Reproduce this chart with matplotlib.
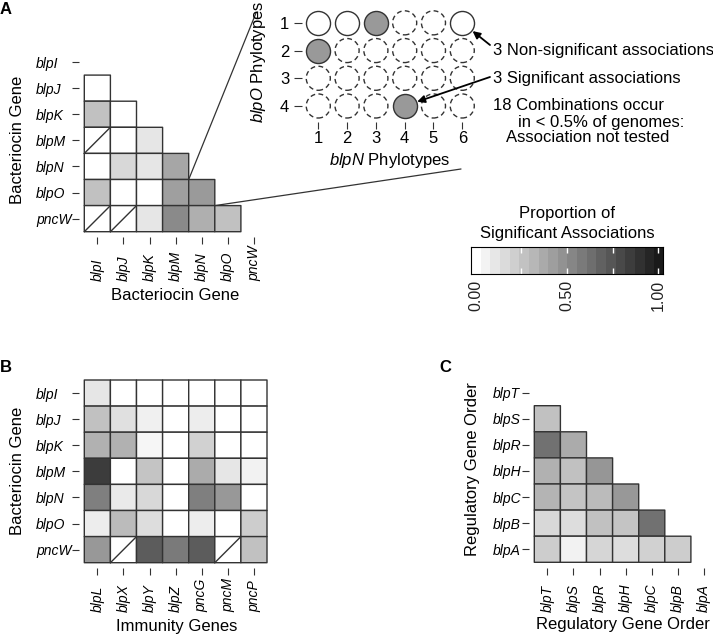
import numpy as np
import matplotlib
matplotlib.use('Agg')
import matplotlib.pyplot as plt
from matplotlib.colors import LinearSegmentedColormap
from matplotlib.patches import ConnectionPatch

plt.rcParams['font.family'] = ['Liberation Sans', 'DejaVu Sans']
plt.rcParams['mathtext.fontset'] = 'custom'
plt.rcParams['mathtext.it'] = 'Liberation Sans:italic'
plt.rcParams['mathtext.rm'] = 'Liberation Sans'
plt.rcParams['mathtext.default'] = 'regular'

nan = np.nan

# ---------------- data ----------------
# Panel A: bacteriocin x bacteriocin (lower triangle; nan = association not tested)
bacteriocin_genes = ["blpI", "blpJ", "blpK", "blpM", "blpN", "blpO", "pncW"]
bact_pair_props = [
    [],
    [0.00],
    [0.27, 0.00],
    [nan, 0.00, 0.11],
    [0.00, 0.17, 0.11, 0.39],
    [0.27, 0.00, 0.00, 0.42, 0.44],
    [nan, nan, 0.11, 0.51, 0.35, 0.27],
]

# Panel B: bacteriocin x immunity genes
immunity_genes = ["blpL", "blpX", "blpY", "blpZ", "pncG", "pncM", "pncP"]
bact_immunity_props = [
    [0.11, 0.00, 0.00, 0.00, 0.00, 0.00, 0.00],
    [0.27, 0.14, 0.07, 0.00, 0.08, 0.00, 0.00],
    [0.34, 0.34, 0.04, 0.00, 0.20, 0.00, 0.00],
    [0.85, 0.00, 0.26, 0.00, 0.37, 0.11, 0.06],
    [0.56, 0.09, 0.17, 0.00, 0.56, 0.45, 0.00],
    [0.08, 0.30, 0.15, 0.00, 0.08, 0.00, 0.22],
    [0.45, nan, 0.71, 0.58, 0.71, nan, 0.27],
]

# Panel C: regulatory gene order (lower triangle)
regulatory_genes = ["blpT", "blpS", "blpR", "blpH", "blpC", "blpB", "blpA"]
regulatory_pair_props = [
    [],
    [0.27],
    [0.62, 0.37],
    [0.34, 0.27, 0.46],
    [0.33, 0.26, 0.30, 0.45],
    [0.17, 0.15, 0.27, 0.26, 0.62],
    [0.22, 0.06, 0.18, 0.15, 0.20, 0.22],
]

# Inset: blpN x blpO phylotype associations
blpN_phylotypes = [1, 2, 3, 4, 5, 6]
blpO_phylotypes = [1, 2, 3, 4]
# 'S' significant, 'N' non-significant, 'R' rare (<0.5% of genomes, not tested)
phylotype_status = [
    ['N', 'N', 'S', 'R', 'R', 'N'],
    ['S', 'R', 'R', 'R', 'R', 'R'],
    ['R', 'R', 'R', 'R', 'R', 'R'],
    ['R', 'R', 'R', 'S', 'R', 'R'],
]

colorbar_ticks = [0.0, 0.5, 1.0]
colorbar_ticklabels = ["0.00", "0.50", "1.00"]
colorbar_minor = [0.25, 0.5, 0.75, 1.0]

# ---------------- helpers ----------------
W, H = 713, 637
fig = plt.figure(figsize=(W / 100, H / 100), dpi=100)


def add_ax(left, top, w, h):
    return fig.add_axes([left / W, 1 - (top + h) / H, w / W, h / H])


def ftext(x, y, s, **kw):
    kw.setdefault('ha', 'center')
    kw.setdefault('va', 'center')
    return fig.text(x / W, 1 - y / H, s, **kw)


CELL = 26.1
PAD = 0.2
TICK_LEN = 4.8
EDGE = '#333333'
cmap = LinearSegmentedColormap.from_list('greys_ggplot', ['#ffffff', '#1a1a1a'])


def heatmap(grid_left, grid_top, rows, cols, vals, label_x):
    n_r, n_c = len(rows), len(cols)
    ax_left = grid_left - PAD * CELL
    ax = add_ax(ax_left, grid_top, (n_c + PAD) * CELL, (n_r + PAD) * CELL)
    M = np.full((n_r, n_c), np.nan)
    present = np.zeros((n_r, n_c), bool)
    for i, r in enumerate(vals):
        for j, v in enumerate(r):
            M[i, j] = v
            present[i, j] = True
    untested = present & np.isnan(M)
    draw = np.where(untested, 0.0, M)
    masked = np.ma.masked_where(~present, draw)
    pc = ax.pcolor(np.arange(n_c + 1), np.arange(n_r + 1), masked, cmap=cmap,
                   vmin=0, vmax=1, edgecolors=EDGE, linewidth=1.0)
    pc.set_clip_on(False)
    for i, j in zip(*np.nonzero(untested)):
        ax.plot([j, j + 1], [i + 1, i], color=EDGE, lw=1.0, clip_on=False)
    ax.set_xlim(-PAD, n_c)
    ax.set_ylim(n_r + PAD, 0)
    ax.set_xticks(np.arange(n_c) + 0.5)
    ax.set_xticklabels(cols, rotation=90, fontstyle='italic', fontsize=10, va='bottom')
    ax.set_yticks(np.arange(n_r) + 0.5)
    ax.set_yticklabels(rows, fontstyle='italic', fontsize=10, ha='left')
    tick_px = TICK_LEN * 100 / 72
    ypad = (ax_left - tick_px - label_x) * 72 / 100
    ax.tick_params(axis='both', length=TICK_LEN, width=0.8, color=EDGE)
    ax.tick_params(axis='y', pad=ypad)
    ax.tick_params(axis='x', pad=26.9)
    for s in ax.spines.values():
        s.set_visible(False)
    return ax


# ---------------- Panel A ----------------
axA = heatmap(84.3, 49.0, bacteriocin_genes, bacteriocin_genes, bact_pair_props, 36)
ftext(6, 10, 'A', fontsize=12, fontweight='bold')
ftext(175.6, 296, 'Bacteriocin Gene', fontsize=12)
ftext(18, 140, 'Bacteriocin Gene', fontsize=12, rotation=90)

# ---------------- Panel B ----------------
axB = heatmap(84.3, 380.0, bacteriocin_genes, immunity_genes, bact_immunity_props, 36)
ftext(6, 367, 'B', fontsize=12, fontweight='bold')
ftext(177, 627, 'Immunity Genes', fontsize=12)
ftext(18, 471, 'Bacteriocin Gene', fontsize=12, rotation=90)

# ---------------- Panel C ----------------
axC = heatmap(534.3, 379.6, regulatory_genes, regulatory_genes, regulatory_pair_props, 492.7)
ftext(445, 367, 'C', fontsize=12, fontweight='bold')
ftext(623, 625, 'Regulatory Gene Order', fontsize=12)
ftext(473, 469, 'Regulatory Gene Order', fontsize=12, rotation=90)

# ---------------- Inset ----------------
ax_in = add_ax(301.7, 7.6, 176.4, 114.1)
xs, ys, st = [], [], []
for i, row in enumerate(phylotype_status):
    for j, s in enumerate(row):
        xs.append(blpN_phylotypes[j]); ys.append(blpO_phylotypes[i]); st.append(s)
xs, ys, st = np.array(xs), np.array(ys), np.array(st)
MS = 300
m = st == 'R'
ax_in.scatter(xs[m], ys[m], s=MS, facecolors='white', edgecolors=EDGE,
              linewidths=1.0, linestyles=[(0, (3.5, 2.4))], zorder=2)
m = st == 'N'
ax_in.scatter(xs[m], ys[m], s=MS, facecolors='white', edgecolors=EDGE,
              linewidths=1.0, zorder=3)
m = st == 'S'
ax_in.scatter(xs[m], ys[m], s=MS, facecolors='#999999', edgecolors=EDGE,
              linewidths=1.0, zorder=3)
ax_in.set_xlim(0.424, 6.55)
ax_in.set_ylim(4.567, 0.45)
ax_in.set_xticks(blpN_phylotypes)
ax_in.set_xticklabels([str(v) for v in blpN_phylotypes], fontsize=12)
ax_in.set_yticks(blpO_phylotypes)
ax_in.set_yticklabels([str(v) for v in blpO_phylotypes], fontsize=12)
ax_in.tick_params(axis='x', length=4.8, width=0.8, color=EDGE, pad=2)
ax_in.tick_params(axis='y', length=6.0, width=0.8, color=EDGE, pad=3)
for s in ax_in.spines.values():
    s.set_visible(False)
ax_in.patch.set_alpha(0)
ftext(390, 161, r'$\it{blpN}$ Phylotypes', fontsize=12)
ftext(258, 62, r'$\it{blpO}$ Phylotypes', fontsize=12, rotation=90)

# annotations
ftext(493, 50, '3 Non-significant associations', fontsize=12, ha='left')
ftext(493, 78, '3 Significant associations', fontsize=12, ha='left')
ftext(493, 106, '18 Combinations occur', fontsize=12, ha='left')
ftext(518, 122, 'in < 0.5% of genomes:', fontsize=12, ha='left')
ftext(506, 138, 'Association not tested', fontsize=12, ha='left')
arrow_kw = dict(arrowstyle='-|>', color='black', lw=1.3, shrinkA=0, shrinkB=9.5,
                mutation_scale=11)
ax_in.annotate('', xy=(6, 1), xycoords='data', xytext=(490, H - 45),
               textcoords='figure pixels', arrowprops=arrow_kw)
ax_in.annotate('', xy=(4, 4), xycoords='data', xytext=(490, H - 77),
               textcoords='figure pixels', arrowprops=arrow_kw)

# connecting lines from panel A cell (blpO x blpN) to inset
con1 = ConnectionPatch(xyA=(4, 5), coordsA=axA.transData,
                       xyB=(256, H - 13), coordsB='figure pixels',
                       color=EDGE, lw=0.9)
con2 = ConnectionPatch(xyA=(5, 6), coordsA=axA.transData,
                       xyB=(461, H - 169), coordsB='figure pixels',
                       color=EDGE, lw=0.9)
fig.add_artist(con1)
fig.add_artist(con2)

# ---------------- Colorbar ----------------
nbin = 20
ax_cb = add_ax(471, 247, 192, 27)
half = 0.5 / (nbin - 1)
ax_cb.imshow(np.linspace(0, 1, nbin)[None, :], cmap=cmap, vmin=0, vmax=1,
             aspect='auto', extent=(-half, 1 + half, 0, 1), interpolation='nearest')
ax_cb.set_xlim(-half, 1 + half)
ax_cb.set_ylim(0, 1)
ax_cb.vlines(colorbar_minor, 0, 0.22, color='white', lw=1.0)
ax_cb.vlines(colorbar_minor, 0.78, 1, color='white', lw=1.0)
ax_cb.set_yticks([])
ax_cb.set_xticks(colorbar_ticks)
ax_cb.set_xticklabels(colorbar_ticklabels, rotation=90, fontsize=11.5, color='#222222')
ax_cb.tick_params(axis='x', length=0, pad=4.5)
for s in ax_cb.spines.values():
    s.set_color('black')
    s.set_linewidth(0.8)
ftext(567, 213, 'Proportion of', fontsize=12)
ftext(567, 233, 'Significant Associations', fontsize=12)

fig.savefig('out.png', dpi=100)
